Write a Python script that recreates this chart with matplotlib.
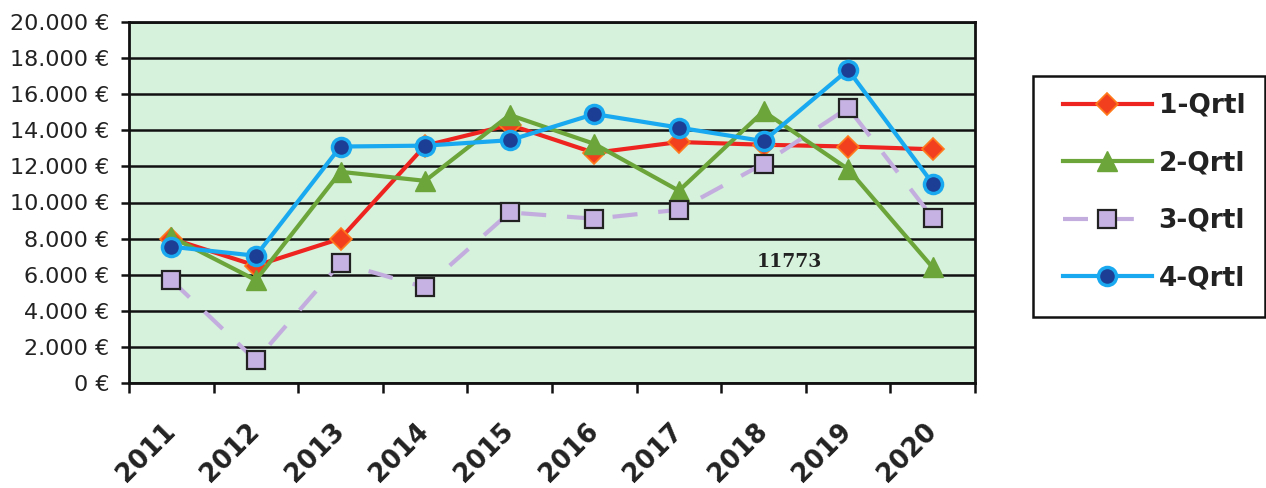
import numpy as np
import matplotlib
matplotlib.use("Agg")
import matplotlib.pyplot as plt
import matplotlib.transforms as mtransforms
from matplotlib.patches import Rectangle
from matplotlib.ticker import FuncFormatter, MultipleLocator

years = ["2011", "2012", "2013", "2014", "2015", "2016", "2017", "2018", "2019", "2020"]

q1 = [8000, 6500, 8000, 13150, 14300, 12750, 13350, 13200, 13100, 12950]
q2 = [8100, 5700, 11700, 11200, 14850, 13250, 10650, 15050, 11850, 6400]
q3 = [5700, 1250, 6650, 5300, 9450, 9100, 9600, 12150, 15250, 9150]
q4 = [7550, 7050, 13100, 13150, 13450, 14900, 14150, 13400, 17350, 11050]

series_labels = ["1-Qrtl", "2-Qrtl", "3-Qrtl", "4-Qrtl"]
note_value = 11773

W, H = 1266, 488
x = np.arange(len(years)) + 0.5

fig = plt.figure(figsize=(W / 100, H / 100), dpi=100)
ax = fig.add_axes([129 / W, 1 - 383 / H, (975 - 129) / W, (383 - 22) / H])
ax.set_facecolor("#d6f1dc")

ax.plot(x, q1, color="#ee2420", lw=3, marker="D", ms=11,
        mfc="#f2401e", mec="#ff7a1a", mew=1.2, label=series_labels[0], zorder=3)
ax.plot(x, q2, color="#6ca53a", lw=3, marker="^", ms=14,
        mfc="#6ca53a", mec="#6ca53a", label=series_labels[1], zorder=4)
ax.plot(x, q3, color="#c3addf", lw=3, dashes=(6, 5), marker="s", ms=13,
        mfc="#c7b3e3", mec="#222222", mew=1.6, label=series_labels[2], zorder=5)
ax.plot(x, q4, color="#19a9f0", lw=3, marker="o", ms=13,
        mfc="#1c3f95", mec="#19a9f0", mew=2.5, label=series_labels[3], zorder=6)

ax.text(7.81, 6700, str(note_value), ha="center", va="center",
        fontsize=13.5, family="DejaVu Serif", fontweight="bold", color="#222222")

ax.set_xlim(0, len(years))
ax.set_ylim(0, 20000)
ax.yaxis.set_major_locator(MultipleLocator(2000))
ax.yaxis.set_major_formatter(FuncFormatter(lambda v, p: f"{int(v):,} €".replace(",", ".")))
ax.grid(axis="y", color="#111111", lw=1.8)
ax.set_axisbelow(True)

# year labels sit between the boundary ticks
ax.set_xticks(np.arange(len(years) + 1))
ax.set_xticklabels([])
ax.set_xticks(x, minor=True)
ax.set_xticklabels(years, minor=True, rotation=45, ha="right", va="center",
                   rotation_mode="anchor", fontsize=18.5, fontweight="bold",
                   color="#222222")
shift = mtransforms.ScaledTranslation(-17 / 100, 0, fig.dpi_scale_trans)
for lbl in ax.get_xticklabels(minor=True):
    lbl.set_transform(lbl.get_transform() + shift)
ax.tick_params(axis="x", which="major", length=7, width=1.8, color="#111111")
ax.tick_params(axis="x", which="minor", length=0, pad=32)
ax.tick_params(axis="y", length=6, width=1.8, color="#111111",
               labelsize=16, labelcolor="#222222", pad=8)

for s in ax.spines.values():
    s.set_color("#111111")
    s.set_linewidth(2)

# legend box
fig.patches.append(Rectangle((1033 / W, 1 - 317 / H), (1265 - 1033) / W, (317 - 76) / H,
                             transform=fig.transFigure, facecolor="white",
                             edgecolor="#111111", lw=1.8, zorder=0))
leg = fig.legend(loc="upper left", bbox_to_anchor=(1063 / W, 1 - 93 / H),
                 prop={"size": 19, "weight": "bold"}, handlelength=3.37,
                 labelspacing=1.19, borderpad=0, handletextpad=0.25,
                 frameon=False, borderaxespad=0)
for t in leg.get_texts():
    t.set_color("#222222")

fig.savefig("out.png", dpi=100)
